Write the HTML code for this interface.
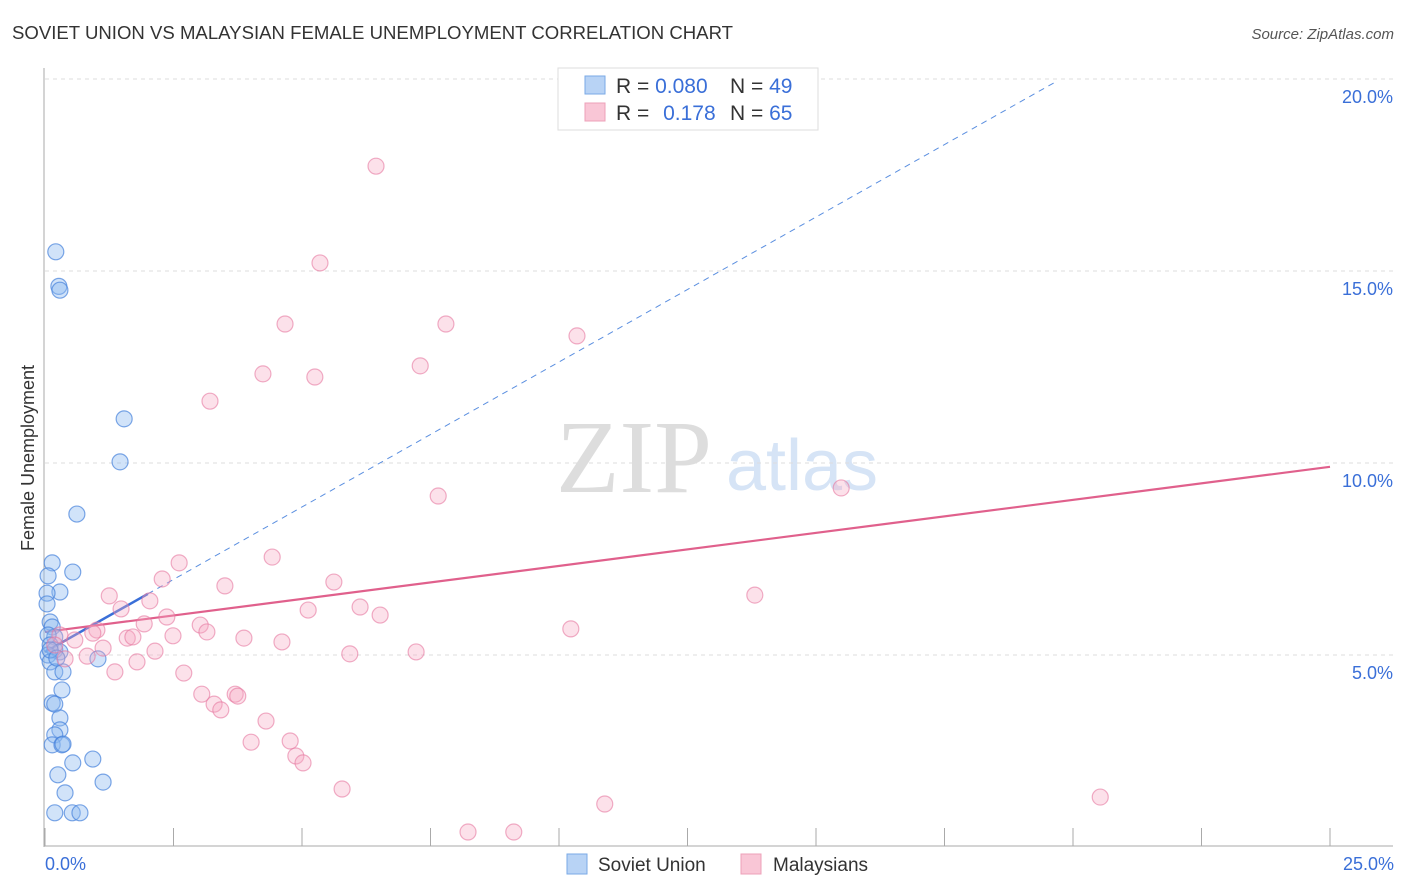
<!DOCTYPE html>
<html><head><meta charset="utf-8"><style>
body{margin:0;background:#fff;font-family:"Liberation Sans",sans-serif;}
#wrap{position:relative;width:1406px;height:892px;overflow:hidden;}
</style></head><body>
<div id="wrap">
<svg id="svg" width="1406" height="892" xmlns="http://www.w3.org/2000/svg" font-family="Liberation Sans, sans-serif">
<text x="12" y="39" font-size="18" fill="#333" textLength="721" lengthAdjust="spacingAndGlyphs">SOVIET UNION VS MALAYSIAN FEMALE UNEMPLOYMENT CORRELATION CHART</text>
<text x="1394" y="39" font-size="15" fill="#555" font-style="italic" text-anchor="end">Source: ZipAtlas.com</text>
<text x="34" y="458" font-size="18" fill="#333" text-anchor="middle" transform="rotate(-90 34 458)">Female Unemployment</text>
<g>
<text x="634" y="492" font-size="104" fill="#ddd" font-family="Liberation Serif, serif" text-anchor="middle">ZIP</text>
<text x="802" y="490" font-size="72" fill="#d6e4f6" text-anchor="middle">atlas</text>
</g>
<g id="grid"></g><g id="axes"></g><g id="trend"></g><g id="pts"></g>
<g>
<rect x="558" y="68" width="260" height="62" fill="#fff" stroke="#ddd"/>
<rect x="585" y="76" width="20" height="18" fill="#b8d3f5" stroke="#7aaae6"/>
<rect x="585" y="103" width="20" height="18" fill="#f9c6d6" stroke="#eda0b8"/>
<text x="616" y="93" font-size="21" fill="#333">R = <tspan fill="#3a6fd8">0.080</tspan></text>
<text x="730" y="93" font-size="21" fill="#333">N = <tspan fill="#3a6fd8">49</tspan></text>
<text x="616" y="120" font-size="21" fill="#333">R = <tspan fill="#3a6fd8" dx="8">0.178</tspan></text>
<text x="730" y="120" font-size="21" fill="#333">N = <tspan fill="#3a6fd8">65</tspan></text>
</g>
<g>
<rect x="567" y="854" width="20" height="20" fill="#b8d3f5" stroke="#7aaae6"/>
<text x="598" y="871" font-size="19" fill="#333">Soviet Union</text>
<rect x="741" y="854" width="20" height="20" fill="#f9c6d6" stroke="#eda0b8"/>
<text x="773" y="871" font-size="19" fill="#333">Malaysians</text>
</g>
</svg>
<script>
const blueX=[0.21,0.27,0.29,1.54,1.46,0.62,0.14,0.06,0.54,0.29,0.04,0.04,0.1,0.14,0.19,0.06,0.1,0.19,0.29,0.06,0.1,1.03,0.19,0.35,0.33,0.14,0.19,0.29,0.29,0.19,0.14,0.33,0.35,0.93,0.54,0.25,1.13,0.39,0.19,0.53,0.68,0.1,0.23];
const blueY=[15.5,14.6,14.5,11.15,10.03,8.67,7.4,7.06,7.16,6.64,6.61,6.33,5.86,5.73,5.47,5.52,5.26,5.13,5.08,5.0,4.82,4.9,4.56,4.56,4.09,3.75,3.72,3.36,3.05,2.92,2.66,2.66,2.68,2.29,2.19,1.88,1.69,1.41,0.89,0.89,0.89,5.13,4.92];
const pinkX=[6.44,5.35,4.67,7.8,10.35,4.24,7.3,5.25,3.21,15.49,7.65,2.61,4.42,2.28,3.5,5.62,1.25,2.04,13.81,1.48,5.12,6.13,6.52,2.37,1.93,3.02,1.01,0.93,10.23,3.15,2.49,1.6,1.71,3.87,4.61,0.58,1.13,2.14,5.93,7.22,0.82,0.39,1.79,1.36,2.7,3.05,3.7,3.75,3.29,3.42,4.3,4.01,4.77,4.88,5.02,5.78,10.89,20.53,8.23,9.12,0.29,0.19];
const pinkY=[17.73,15.21,13.62,13.62,13.31,12.32,12.53,12.24,11.61,9.35,9.14,7.4,7.55,6.98,6.8,6.9,6.54,6.41,6.56,6.2,6.17,6.25,6.04,5.99,5.81,5.78,5.65,5.57,5.68,5.6,5.5,5.44,5.47,5.44,5.34,5.39,5.18,5.1,5.03,5.08,4.97,4.9,4.82,4.56,4.53,3.98,3.98,3.93,3.72,3.57,3.28,2.73,2.76,2.37,2.19,1.51,1.12,1.3,0.39,0.39,5.52,5.26];
const yTicks=[5,10,15,20];
const yTickLabels=["5.0%","10.0%","15.0%","20.0%"];
const xTicks=[0,2.5,5,7.5,10,12.5,15,17.5,20,22.5,25];
const pinkTrend=[5.6,9.9];
const blueTrend=[5.08,0.755];
const NS="http://www.w3.org/2000/svg";
const sx=v=>45+v*51.4, sy=v=>847-v*38.4;
function mk(tag,attrs,parent){const e=document.createElementNS(NS,tag);for(const k in attrs)e.setAttribute(k,attrs[k]);document.getElementById(parent).appendChild(e);return e;}
yTicks.forEach((t,i)=>{
 let l=mk('line',{x1:45,x2:1393,y1:sy(t),y2:sy(t),stroke:'#ddd','stroke-dasharray':'4 4'},'grid');
 
 
 let tx=mk('text',{x:1393,y:sy(t)+24,'font-size':18,fill:'#3a6fd8','text-anchor':'end'},'axes');
 tx.textContent=yTickLabels[i];
 
 
});
let ya=mk('line',{x1:44,x2:44,y1:68,y2:847,stroke:'#aaa'},'axes');


let xa=mk('line',{x1:44,x2:1393,y1:846,y2:846,stroke:'#aaa'},'axes');


xTicks.forEach(t=>{let l=mk('line',{x1:sx(t),x2:sx(t),y1:828,y2:846,stroke:'#aaa'},'axes');
 
 });
let x0=mk('text',{x:45,y:870,'font-size':18,fill:'#3a6fd8'},'axes');x0.textContent='0.0%';


let x1=mk('text',{x:1394,y:870,'font-size':18,fill:'#3a6fd8','text-anchor':'end'},'axes');x1.textContent='25.0%';


blueX.forEach((v,i)=>{let c=mk('circle',{cx:sx(v),cy:sy(blueY[i]),r:8,fill:'rgba(140,185,240,0.4)',stroke:'rgba(70,130,220,0.7)','stroke-width':1.2},'pts');
 
 });
pinkX.forEach((v,i)=>{let c=mk('circle',{cx:sx(v),cy:sy(pinkY[i]),r:8,fill:'rgba(245,170,195,0.35)',stroke:'rgba(230,120,160,0.6)','stroke-width':1.2},'pts');
 
 });
let bd=mk('line',{x1:sx(2),y1:sy(blueTrend[0]+2*blueTrend[1]),x2:sx(19.65),y2:sy(blueTrend[0]+19.65*blueTrend[1]),stroke:'#5b8fe0','stroke-dasharray':'6 5','stroke-width':1},'trend');


let bs=mk('line',{x1:sx(0),y1:sy(blueTrend[0]),x2:sx(2),y2:sy(blueTrend[0]+2*blueTrend[1]),stroke:'#3a6fd8','stroke-width':2.5},'trend');


let pl=mk('line',{x1:sx(0),y1:sy(pinkTrend[0]),x2:sx(25),y2:sy(pinkTrend[1]),stroke:'#e0608c','stroke-width':2.2},'trend');


</script>
</div>
</body></html>
